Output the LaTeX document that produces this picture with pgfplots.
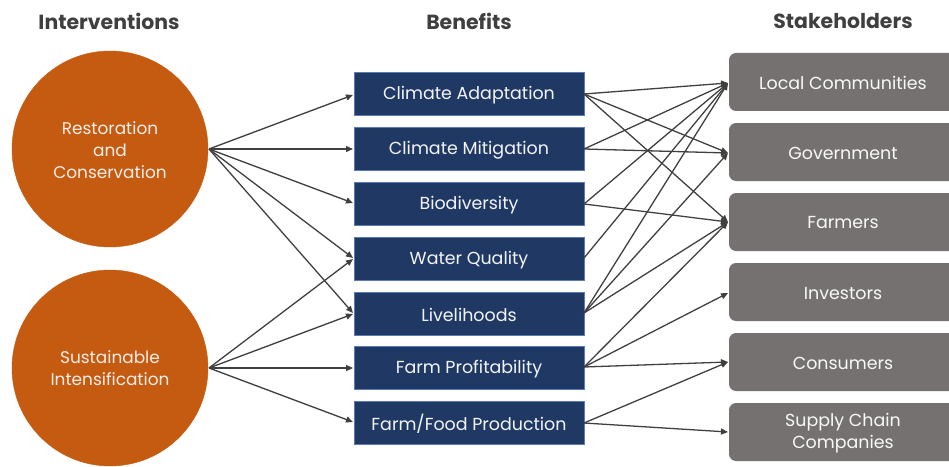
\documentclass[border=0pt]{standalone}
\usepackage{pgfplots}
\pgfplotsset{compat=1.18}
\usepackage{fontspec}
\setmainfont{Poppins}
\usetikzlibrary{arrows.meta}
\definecolor{circ}{HTML}{C55A11}
\definecolor{bfill}{HTML}{1F3864}
\definecolor{bedge}{HTML}{5B7BB5}
\definecolor{gfill}{HTML}{767171}
\definecolor{lnc}{HTML}{404040}
\definecolor{hd}{HTML}{3F3F3F}

% one arrow from (x1,y1) to (x2,y2), pixel units
\newcommand\arr[4]{\addplot[lnc, line width=1.3bp, -{Triangle[length=7bp,width=6bp]}] coordinates {(#1,#2) (#3,#4)};}
\newcommand\bbox[2]{\addplot[fill=bfill, draw=bedge, line width=0.7bp] coordinates {(354,#1) (584,#1) (584,#2) (354,#2)} --cycle;}
\newcommand\gbox[2]{\addplot[fill=gfill, draw=none, rounded corners=7bp] coordinates {(729,#1) (975,#1) (975,#2) (729,#2)} --cycle;}

\begin{document}
\begin{tikzpicture}
\begin{axis}[
    width=949bp, height=467bp, scale only axis,
    xmin=0, xmax=949, ymin=0, ymax=467, y dir=reverse,
    hide axis, clip=true,
]
% interventions
\addplot[only marks, mark=*, mark size=98bp, mark options={fill=circ, draw=circ}]
    coordinates {(110,149) (110,368)};

% benefits
\bbox{72.5}{115.5}
\bbox{127.5}{170.5}
\bbox{182.5}{225.5}
\bbox{237.5}{280.5}
\bbox{292.5}{335.5}
\bbox{346.5}{389.5}
\bbox{401.5}{444.5}

% stakeholders
\gbox{53}{111}
\gbox{123}{181}
\gbox{193}{251}
\gbox{263}{321}
\gbox{333}{391}
\gbox{403}{461}

% interventions -> benefits
\arr{209}{149}{353}{95}
\arr{209}{149}{353}{149}
\arr{209}{149}{353}{203}
\arr{209}{149}{353}{258}
\arr{209}{149}{353}{313}
\arr{209}{368}{353}{259}
\arr{209}{368}{353}{314}
\arr{209}{368}{353}{368}
\arr{209}{368}{353}{422}

% benefits -> stakeholders
\arr{584}{94}{728}{83}
\arr{584}{94}{728}{153}
\arr{584}{94}{728}{222}
\arr{584}{149}{728}{83}
\arr{584}{149}{728}{153}
\arr{584}{204}{728}{83}
\arr{584}{204}{728}{222}
\arr{584}{258}{728}{83}
\arr{584}{313}{728}{83}
\arr{584}{313}{728}{153}
\arr{584}{313}{728}{222}
\arr{584}{367}{728}{222}
\arr{584}{367}{728}{293}
\arr{584}{367}{728}{362}
\arr{584}{423}{728}{362}
\arr{584}{423}{728}{432}

\coordinate (c1) at (axis cs:110,150);
\coordinate (c2) at (axis cs:110,368);

% headers
\node[font=\fontsize{20.5}{24}\selectfont\bfseries, text=hd] at (axis cs:109,21) {Interventions};
\node[font=\fontsize{20.5}{24}\selectfont\bfseries, text=hd] at (axis cs:469,21) {Benefits};
\node[font=\fontsize{20.5}{24}\selectfont\bfseries, text=hd] at (axis cs:843,21) {Stakeholders};

% box labels
\begin{scope}[every node/.style={font=\fontsize{17.5}{20}\selectfont, text=white!95!bfill}]
\node at (axis cs:469,95) {Climate Adaptation};
\node at (axis cs:469,150) {Climate Mitigation};
\node at (axis cs:469,205) {Biodiversity};
\node at (axis cs:469,260) {Water Quality};
\node at (axis cs:469,315) {Livelihoods};
\node at (axis cs:469,369) {Farm Profitability};
\node at (axis cs:469,424) {Farm/Food Production};
\end{scope}
\begin{scope}[every node/.style={font=\fontsize{17.5}{20}\selectfont, text=white!95!gfill, align=center}]
\node at (axis cs:843,83) {Local Communities};
\node at (axis cs:843,153) {Government};
\node at (axis cs:843,223) {Farmers};
\node at (axis cs:843,293) {Investors};
\node at (axis cs:843,363) {Consumers};
\node[font=\fontsize{17.5}{21.5}\selectfont] at (axis cs:843,433) {Supply Chain\\Companies};
\end{scope}
\end{axis}
% circle labels, set after the axis so they sit above the marks
\node[font=\fontsize{17}{22}\selectfont, text=white!90!circ, align=center] at (c1) {Restoration\\and\\Conservation};
\node[font=\fontsize{17}{22}\selectfont, text=white!90!circ, align=center] at (c2) {Sustainable\\Intensification};
\pgfresetboundingbox
\path[use as bounding box] (current axis.south west) rectangle (current axis.north east);
\end{tikzpicture}
\end{document}
